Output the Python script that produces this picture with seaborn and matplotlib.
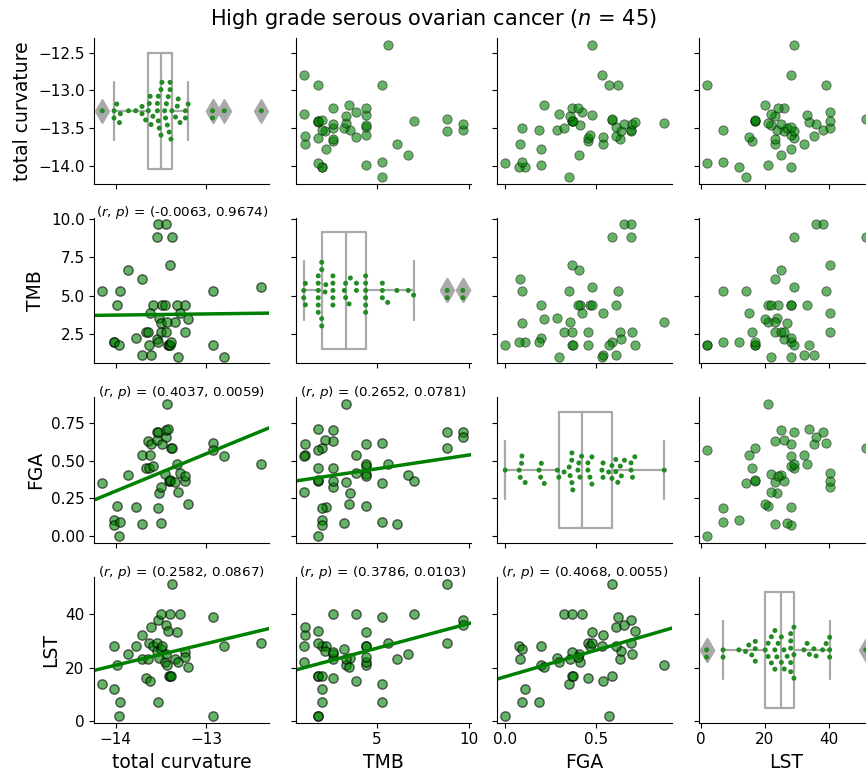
import matplotlib
matplotlib.use('Agg')
import matplotlib.pyplot as plt
import pandas as pd
import seaborn as sns

# values (matched by position across panels)
curvature = [-14.15, -14.02, -14.02, -13.99, -13.96, -13.95, -13.86, -13.78, -13.71, -13.71,
             -13.67, -13.64, -13.63, -13.62, -13.61, -13.59, -13.54, -13.54, -13.53, -13.53,
             -13.52, -13.50, -13.50, -13.49, -13.46, -13.45, -13.44, -13.43, -13.42, -13.41,
             -13.40, -13.40, -13.39, -13.38, -13.34, -13.32, -13.31, -13.29, -13.23, -13.23,
             -13.20, -12.93, -12.93, -12.80, -12.39]
tmb = [5.29, 1.99, 1.99, 4.38, 1.80, 5.29, 6.70, 2.21, 1.10, 6.08,
       2.60, 2.60, 1.80, 3.88, 1.10, 4.38, 8.82, 2.17, 9.67, 1.99,
       3.55, 2.60, 3.22, 4.38, 4.38, 9.67, 2.60, 3.29, 1.80, 1.80,
       6.99, 1.80, 1.99, 8.82, 3.29, 4.38, 1.01, 3.88, 2.60, 4.38,
       3.48, 5.29, 1.80, 1.01, 5.58]
fga = [0.352, 0.110, 0.077, 0.199, 0.000, 0.092, 0.405, 0.195, 0.538, 0.083,
       0.455, 0.633, 0.455, 0.538, 0.608, 0.466, 0.692, 0.639, 0.692, 0.186,
       0.287, 0.324, 0.090, 0.608, 0.411, 0.656, 0.700, 0.875, 0.713, 0.367,
       0.367, 0.372, 0.587, 0.587, 0.357, 0.477, 0.295, 0.420, 0.366, 0.400,
       0.215, 0.619, 0.569, 0.532, 0.477]
lst = [14.0, 11.9, 28.0, 21.0, 1.9, 7.0, 25.1, 28.0, 32.1, 23.1,
       15.9, 23.1, 29.0, 15.0, 35.2, 28.0, 29.0, 26.0, 37.9, 7.0,
       23.7, 40.1, 26.9, 28.0, 22.0, 35.9, 25.1, 21.0, 33.8, 17.0,
       40.1, 17.0, 17.0, 51.3, 23.1, 33.1, 22.0, 40.1, 25.9, 24.1,
       20.1, 39.0, 1.9, 28.0, 29.0]

# (r, p) printed on the lower panels
stat_pairs = [('TMB', 'total curvature'), ('FGA', 'total curvature'), ('FGA', 'TMB'),
              ('LST', 'total curvature'), ('LST', 'TMB'), ('LST', 'FGA')]
r_vals = [-0.0063, 0.4037, 0.2652, 0.2582, 0.3786, 0.4068]
p_vals = [0.9674, 0.0059, 0.0781, 0.0867, 0.0103, 0.0055]
stats = {k: (r, p) for k, r, p in zip(stat_pairs, r_vals, p_vals)}

df = pd.DataFrame({'total curvature': curvature, 'TMB': tmb, 'FGA': fga, 'LST': lst})

sns.set_style('ticks')
plt.rcParams.update({'xtick.labelsize': 11, 'ytick.labelsize': 11, 'axes.labelsize': 13.5,
                     'text.color': 'black', 'axes.labelcolor': 'black', 'axes.edgecolor': 'black',
                     'xtick.color': 'black', 'ytick.color': 'black'})

pt_kws = dict(alpha=0.6, edgecolor='k', s=45)


def diag_box(x, color=None, label=None, **kws):
    ax = plt.gca()
    sns.boxplot(x=x, ax=ax, fill=False, color='darkgray', linewidth=1.6, width=0.8,
                flierprops=dict(marker='d', markersize=12, markerfacecolor='darkgray',
                                markeredgecolor='darkgray'))
    # invisible edge keeps the swarm spacing a bit wider than the dots
    sns.swarmplot(x=x, ax=ax, color='forestgreen', size=3.6, linewidth=1.4, edgecolor='none')


def lower_reg(x, y, color=None, label=None, **kws):
    ax = plt.gca()
    sns.regplot(x=x, y=y, ax=ax, ci=None, truncate=False, color='green',
                scatter_kws=pt_kws, line_kws=dict(lw=2.5))
    r, p = stats[(y.name, x.name)]
    ax.annotate('($r$, $p$) = ({:.4f}, {:.4f})'.format(r, p), xy=(0.5, 0.975),
                xycoords='axes fraction', ha='center', va='bottom', fontsize=9.7)


g = sns.PairGrid(df, height=1.93, aspect=1.12)
g.map_upper(sns.scatterplot, color='green', **pt_kws)
g.map_lower(lower_reg)
g.map_diag(diag_box)

fig = g.figure
fig.set_size_inches(8.66, 7.72)
fig.subplots_adjust(left=94.3 / 866, right=873.7 / 866, top=1 - 38 / 772, bottom=1 - 722.6 / 772,
                    wspace=0.151, hspace=0.235)
fig.suptitle('High grade serous ovarian cancer ($n$ = 45)', fontsize=15, y=0.991, va='top')

fig.savefig('out.png', dpi=100)
